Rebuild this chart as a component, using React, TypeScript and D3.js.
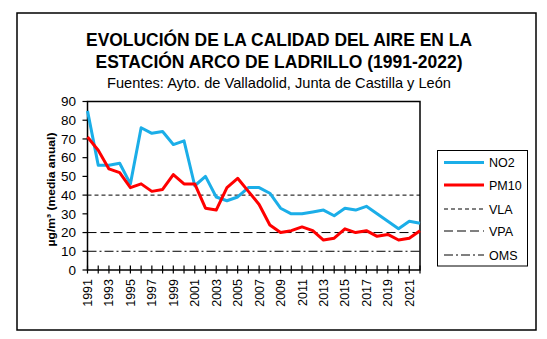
import React from "react";
import * as d3 from "d3";

const years = d3.range(1991, 2023);
const no2 = [85, 56, 56, 57, 46, 76, 73, 74, 67, 69, 45, 50, 39, 37, 39, 44, 44, 41, 33, 30, 30, 31, 32, 29, 33, 32, 34, 30, 26, 22, 26, 25];
const pm10 = [71, 64, 54, 52, 44, 46, 42, 43, 51, 46, 46, 33, 32, 44, 49, 42, 35, 24, 20, 21, 23, 21, 16, 17, 22, 20, 21, 18, 19, 16, 17, 21];
const yTicks = [0, 10, 20, 30, 40, 50, 60, 70, 80, 90];
const xLabelYears = years.filter((y) => (y - 1991) % 2 === 0);
const refLines = [
  { name: "VLA", value: 40, dash: "4,3" },
  { name: "VPA", value: 20, dash: "9,4" },
  { name: "OMS", value: 10, dash: "9,3,2,3" },
];
const titleLines = ["EVOLUCIÓN DE LA CALIDAD DEL AIRE EN LA", "ESTACIÓN ARCO DE LADRILLO (1991-2022)"];
const subtitle = "Fuentes: Ayto. de Valladolid, Junta de Castilla y León";

const BLUE = "#1BAEE8";
const RED = "#FF0000";
const FONT = "'Liberation Sans', Arial, sans-serif";

export default function App() {
  const W = 547, H = 339;
  const left = 87.5, right = 420, top = 101.5, bottom = 270;
  const x = d3.scaleLinear().domain([1991, 2022]).range([left, right]);
  const y = d3.scaleLinear().domain([0, 90]).range([bottom, top]);
  const line = d3.line<number>().x((_, i) => x(years[i])).y((d) => y(d));

  const legendItems = [
    { name: "NO2", color: BLUE, width: 3, dash: undefined as string | undefined },
    { name: "PM10", color: RED, width: 3, dash: undefined as string | undefined },
    ...refLines.map((r) => ({ name: r.name, color: "#000", width: 1, dash: r.dash })),
  ];
  const legendY = [162.5, 185, 209, 231, 255];
  const titleWidths = [386, 367];

  return (
    <svg width={W} height={H} style={{ position: "absolute", left: 0, top: 0 }} fontFamily={FONT}>
      <rect x={0} y={0} width={W} height={H} fill="#fff" />
      <rect x={17} y={13} width={519} height={317} fill="none" stroke="#000" strokeWidth={1.5} />
      {titleLines.map((t, i) => (
        <text key={i} x={279} y={45.5 + i * 22} textAnchor="middle" fontWeight="bold" fontSize={18.5} fill="#000"
          textLength={titleWidths[i]} lengthAdjust="spacingAndGlyphs">
          {t}
        </text>
      ))}
      <text x={279} y={87.5} textAnchor="middle" fontSize={15} fill="#000" textLength={344} lengthAdjust="spacingAndGlyphs">
        {subtitle}
      </text>

      {/* reference lines */}
      {refLines.map((r) => (
        <line key={r.name} x1={left} x2={right} y1={y(r.value)} y2={y(r.value)} stroke="#000" strokeWidth={1} strokeDasharray={r.dash} />
      ))}

      {/* frame */}
      <rect x={left} y={top} width={right - left} height={bottom - top} fill="none" stroke="#000" strokeWidth={1.5} />

      {/* y ticks */}
      {yTicks.map((t) => (
        <g key={t}>
          <line x1={left - 5} x2={left} y1={y(t)} y2={y(t)} stroke="#000" strokeWidth={1.2} />
          <text x={76} y={y(t) + 4.8} textAnchor="end" fontSize={13.5} fill="#000">
            {t}
          </text>
        </g>
      ))}

      {/* x ticks */}
      {years.map((yr) => (
        <line key={yr} x1={x(yr)} x2={x(yr)} y1={bottom - 4.5} y2={bottom + 3.5} stroke="#000" strokeWidth={1.2} />
      ))}
      {xLabelYears.map((yr) => (
        <text key={yr} transform={`translate(${x(yr) + 4.5},279) rotate(-90)`} textAnchor="end" fontSize={12.5} fill="#000">
          {yr}
        </text>
      ))}

      {/* series */}
      <path d={line(no2) || ""} fill="none" stroke={BLUE} strokeWidth={3} strokeLinejoin="round" />
      <path d={line(pm10) || ""} fill="none" stroke={RED} strokeWidth={3} strokeLinejoin="round" />

      {/* y label */}
      <text transform={`translate(54.5,189.5) rotate(-90)`} textAnchor="middle" fontSize={11.5} fontWeight="bold" fill="#000"
        textLength={114} lengthAdjust="spacingAndGlyphs">
        µg/m³ (media anual)
      </text>

      {/* legend */}
      <rect x={437.5} y={150.5} width={90} height={115.5} fill="#fff" stroke="#000" strokeWidth={1} />
      {legendItems.map((it, i) => (
        <g key={it.name}>
          <line x1={444} x2={484} y1={legendY[i]} y2={legendY[i]} stroke={it.color} strokeWidth={it.width} strokeDasharray={it.dash} />
          <text x={489} y={legendY[i] + 4.5} fontSize={12.5} fill="#000">
            {it.name}
          </text>
        </g>
      ))}
    </svg>
  );
}
